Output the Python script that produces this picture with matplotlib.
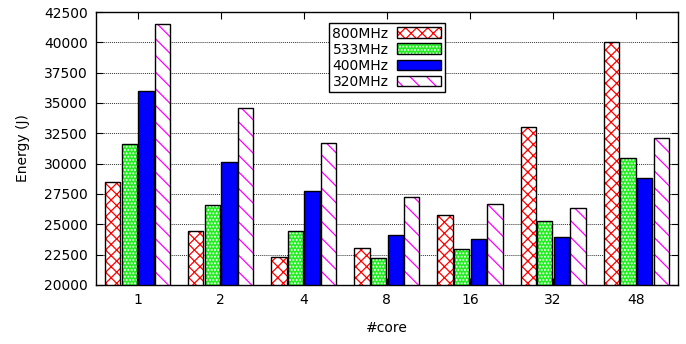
import numpy as np
from matplotlib import pyplot as plt

cores = ["1", "2", "4", "8", "16", "32", "48"]
freqs = ["800MHz", "533MHz", "400MHz", "320MHz"]
energy_800 = [28500, 24400, 22300, 23000, 25750, 33050, 40000]
energy_533 = [31600, 26600, 24400, 22200, 22950, 25250, 30500]
energy_400 = [36000, 30100, 27700, 24100, 23750, 23950, 28780]
energy_320 = [41500, 34600, 31700, 27230, 26650, 26300, 32100]

series = [energy_800, energy_533, energy_400, energy_320]
# face, hatch, hatch colour
styles = [
    ("white", "xxx", "red"),
    ("#22ee22", ".....", "white"),
    ("#0000ff", "", "#0000ff"),
    ("white", "\\\\", "magenta"),
]

plt.rcParams["font.family"] = "DejaVu Sans"
plt.rcParams["font.size"] = 10
plt.rcParams["hatch.linewidth"] = 0.9

fig, ax = plt.subplots(figsize=(6.86, 3.44), dpi=100)
fig.subplots_adjust(left=0.14, right=0.988, top=0.965, bottom=0.172)

x = np.arange(len(cores))
width = 0.2
handles = []
for i, (vals, (fc, hatch, hc)) in enumerate(zip(series, styles)):
    pos = x + (i - 1.5) * width
    h1 = ax.bar(pos, vals, width * 0.92, bottom=0, color=fc, hatch=hatch,
                edgecolor=hc, linewidth=0, zorder=2)
    h2 = ax.bar(pos, vals, width * 0.92, bottom=0, fill=False,
                edgecolor="black", linewidth=1.0, zorder=3)
    handles.append((h1.patches[0], h2.patches[0]))

ax.set_ylim(20000, 42500)
ax.set_xlim(-0.5, 6.5)
ax.set_xticks(x)
ax.set_xticklabels(cores)
ax.set_yticks(np.arange(20000, 42501, 2500))
ax.tick_params(direction="in", top=True, right=True, length=5, pad=6)
ax.yaxis.grid(True, linestyle=(0, (1, 1)), color="#333333", linewidth=0.7)
ax.set_axisbelow(True)
for s in ax.spines.values():
    s.set_linewidth(1.0)

ax.set_ylabel("Energy (J)", labelpad=10)
ax.set_xlabel("#core", labelpad=10)

leg = ax.legend(handles, freqs, loc="upper center", bbox_to_anchor=(0.5, 0.985),
                markerfirst=False, fancybox=False, framealpha=1, edgecolor="black",
                borderpad=0.25, labelspacing=0.15, handlelength=3.2, handleheight=0.8,
                handletextpad=0.6, fontsize=10)
leg.get_frame().set_linewidth(1.0)

plt.savefig("out.png")
